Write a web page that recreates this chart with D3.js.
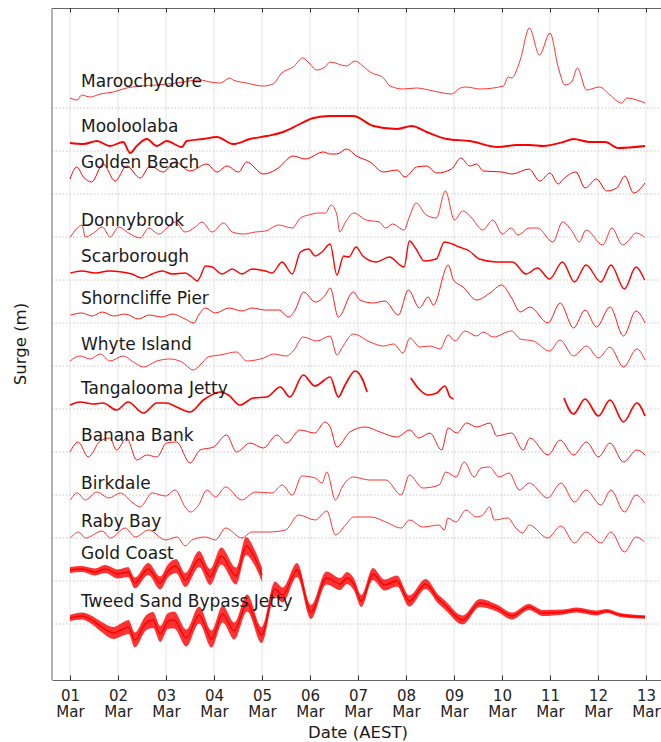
<!DOCTYPE html>
<html>
<head>
<meta charset="utf-8">
<script src="https://cdn.jsdelivr.net/npm/d3@7"></script>
<style>
  body { margin: 0; background: #fff; }
  svg { display: block; font-family: "DejaVu Sans", sans-serif; }
</style>
</head>
<body>
<svg id="chart"></svg>
<script>
// Station names, top to bottom
const stations = ["Maroochydore", "Mooloolaba", "Golden Beach", "Donnybrook", "Scarborough",
  "Shorncliffe Pier", "Whyte Island", "Tangalooma Jetty", "Banana Bank", "Birkdale",
  "Raby Bay", "Gold Coast", "Tweed Sand Bypass Jetty"];

// vertical stacking offset of each station (m)
const offsets = [5.16, 4.73, 4.30, 3.87, 3.44, 3.01, 2.58, 2.15, 1.72, 1.29, 0.86, 0.43, 0];

// x tick labels: days of March
const tickDays = [0, 1, 2, 3, 4, 5, 6, 7, 8, 9, 10, 11, 12];

// surge series: [days since 01 Mar 00:00 AEST, surge m] (null = gap)
const maroochydore = [[0,0.10],[0.15,0.08],[0.24,0.13],[0.42,0.11],[0.63,0.14],[0.9,0.16],[1.18,0.20],[1.46,0.22],[1.81,0.23],[2.22,0.25],[2.71,0.28],[2.92,0.26],[3.13,0.25],[3.33,0.30],[3.4,0.28],[3.68,0.25],[4.02,0.22],[4.23,0.24],[4.41,0.35],[4.65,0.41],[4.85,0.50],[4.96,0.46],[5.14,0.38],[5.31,0.41],[5.42,0.46],[5.76,0.42],[5.94,0.47],[6.08,0.43],[6.25,0.36],[6.53,0.30],[6.67,0.22],[6.94,0.19],[7.22,0.20],[7.57,0.17],[7.95,0.14],[8.13,0.20],[8.26,0.21],[8.54,0.19],[9.03,0.22],[9.13,0.31],[9.2,0.30],[9.38,0.48],[9.57,0.80],[9.78,0.53],[10.0,0.75],[10.17,0.41],[10.31,0.23],[10.45,0.26],[10.57,0.40],[10.76,0.18],[11.03,0.21],[11.25,0.13],[11.49,0.05],[11.6,0.10],[11.74,0.09],[11.98,0.05]];
const mooloolaba = [[0,0.08],[0.28,0.07],[0.56,0.10],[0.83,0.05],[1.11,0.09],[1.25,-0.02],[1.39,0.05],[1.6,0.12],[1.81,0.05],[2.01,0.10],[2.33,0.04],[2.43,0.10],[2.78,0.12],[3.06,0.14],[3.4,0.07],[3.75,0.12],[4.1,0.15],[4.44,0.19],[4.79,0.27],[5.07,0.33],[5.42,0.35],[5.9,0.35],[6.32,0.25],[6.81,0.22],[7.12,0.25],[7.43,0.19],[7.85,0.12],[8.33,0.10],[8.92,0.04],[9.31,0.06],[9.58,0.06],[9.86,0.05],[10.28,0.09],[10.49,0.12],[10.83,0.09],[11.15,0.09],[11.42,0.03],[11.98,0.05]];
const goldenBeach = [[0,0.15],[0.14,0.27],[0.28,0.17],[0.45,0.12],[0.69,0.30],[0.94,0.13],[1.18,0.28],[1.46,0.16],[1.67,0.28],[1.94,0.22],[2.19,0.32],[2.5,0.23],[2.85,0.30],[3.06,0.22],[3.27,0.28],[3.51,0.22],[3.68,0.32],[4.03,0.20],[4.31,0.25],[4.65,0.38],[4.9,0.35],[5.28,0.42],[5.42,0.40],[5.56,0.40],[5.76,0.45],[5.97,0.38],[6.25,0.32],[6.53,0.22],[6.81,0.24],[6.98,0.17],[7.22,0.27],[7.43,0.28],[7.64,0.21],[7.95,0.25],[8.14,0.36],[8.33,0.28],[8.47,0.30],[8.61,0.23],[9.0,0.22],[9.21,0.20],[9.56,0.25],[9.79,0.13],[10.0,0.21],[10.17,0.10],[10.28,0.15],[10.54,0.22],[10.73,0.06],[10.97,0.15],[11.18,0.03],[11.39,0.06],[11.56,0.18],[11.74,0.01],[11.98,0.11]];
const donnybrook = [[0.01,0.00],[0.15,0.09],[0.25,0.12],[0.32,0.00],[0.49,0.04],[0.67,0.10],[0.84,0.00],[1.01,0.10],[1.22,0.04],[1.46,-0.01],[1.64,0.09],[1.85,0.03],[2.02,0.09],[2.19,0.15],[2.4,0.05],[2.61,0.10],[2.75,0.15],[2.96,0.05],[3.2,0.14],[3.38,0.05],[3.62,0.03],[3.86,0.05],[4.07,0.06],[4.35,0.12],[4.63,0.09],[4.8,0.19],[4.97,0.22],[5.18,0.24],[5.32,0.24],[5.44,0.32],[5.56,0.22],[5.62,0.05],[5.74,0.15],[5.91,0.24],[6.17,0.17],[6.44,0.15],[6.58,0.09],[6.72,0.13],[6.96,0.07],[7.07,0.20],[7.21,0.34],[7.42,0.22],[7.63,0.19],[7.82,0.46],[8.01,0.17],[8.18,0.26],[8.35,0.20],[8.6,0.07],[8.81,0.17],[9.01,0.03],[9.19,0.09],[9.33,0.02],[9.57,0.09],[9.74,0.09],[10.06,-0.05],[10.26,0.15],[10.47,0.05],[10.61,-0.05],[10.75,0.07],[11.1,-0.08],[11.29,0.09],[11.51,-0.08],[11.65,-0.03],[11.79,0.04],[11.97,0.00]];
const scarborough = [[0.01,0.07],[0.25,0.09],[0.53,0.07],[0.81,0.09],[1.08,0.08],[1.29,0.06],[1.5,0.02],[1.71,0.06],[1.92,0.09],[2.13,0.06],[2.4,0.07],[2.54,0.03],[2.65,-0.01],[2.72,0.04],[2.82,0.14],[2.96,0.13],[3.17,0.06],[3.38,0.11],[3.58,0.06],[3.79,0.11],[4.07,0.09],[4.21,0.07],[4.42,0.18],[4.63,0.06],[4.8,0.28],[4.97,0.31],[5.11,0.24],[5.25,0.28],[5.42,0.36],[5.56,0.05],[5.7,0.24],[5.81,0.23],[5.96,0.33],[6.1,0.24],[6.38,0.18],[6.65,0.23],[6.96,0.13],[7.07,0.39],[7.21,0.31],[7.38,0.19],[7.63,0.21],[7.8,0.38],[7.97,0.36],[8.11,0.33],[8.32,0.29],[8.53,0.21],[8.88,0.18],[9.22,0.18],[9.5,0.06],[9.74,0.12],[9.99,0.01],[10.26,0.18],[10.51,-0.02],[10.75,0.15],[11.06,-0.02],[11.27,0.15],[11.55,-0.09],[11.79,0.13],[11.97,0.00]];
const shorncliffe = [[0.01,0.08],[0.25,0.10],[0.46,0.07],[0.67,0.11],[0.91,0.07],[1.15,0.09],[1.43,0.04],[1.64,0.08],[1.92,0.06],[2.13,0.09],[2.4,0.04],[2.58,0.00],[2.68,0.08],[2.82,0.15],[3.03,0.10],[3.31,0.15],[3.58,0.12],[3.79,0.15],[4.07,0.13],[4.35,0.13],[4.56,0.06],[4.69,0.13],[4.87,0.31],[5.11,0.21],[5.32,0.28],[5.42,0.35],[5.59,0.06],[5.9,0.31],[6.04,0.23],[6.32,0.20],[6.56,0.22],[6.84,0.08],[7.05,0.33],[7.28,0.15],[7.46,0.26],[7.57,0.18],[7.88,0.58],[7.99,0.43],[8.19,0.36],[8.47,0.23],[8.75,0.30],[8.99,0.38],[9.2,0.25],[9.38,0.11],[9.58,0.16],[9.96,0.00],[10.21,0.20],[10.49,-0.05],[10.73,0.13],[10.97,-0.04],[11.25,0.16],[11.53,-0.13],[11.79,0.12],[11.98,0.00]];
const whyteIsland = [[0,0.05],[0.21,0.10],[0.42,0.07],[0.63,0.12],[0.83,0.05],[1.11,0.10],[1.32,0.04],[1.53,-0.01],[1.81,0.05],[2.08,0.07],[2.33,0.04],[2.57,-0.04],[2.71,0.01],[2.88,0.09],[3.13,0.11],[3.47,0.14],[3.68,0.05],[4.03,0.08],[4.24,0.12],[4.51,0.10],[4.65,0.15],[4.86,0.29],[5.14,0.25],[5.42,0.30],[5.56,0.11],[5.69,0.20],[5.9,0.32],[6.25,0.24],[6.53,0.20],[6.74,0.22],[6.94,0.13],[7.08,0.28],[7.29,0.19],[7.5,0.20],[7.71,0.17],[7.88,0.31],[8.02,0.25],[8.23,0.35],[8.47,0.30],[8.61,0.34],[8.82,0.29],[9.2,0.35],[9.38,0.27],[9.65,0.25],[9.99,0.15],[10.21,0.26],[10.49,0.10],[10.76,0.20],[11.01,0.08],[11.25,0.19],[11.53,-0.01],[11.81,0.17],[11.98,0.06]];
const tangalooma = [[0,0.04],[0.21,0.07],[0.49,0.05],[0.69,0.06],[0.97,-0.01],[1.21,0.07],[1.53,-0.04],[1.81,0.06],[2.01,0.06],[2.22,0.02],[2.5,-0.03],[2.78,0.09],[3.13,0.17],[3.3,0.14],[3.54,0.04],[3.82,0.11],[4.1,0.12],[4.38,0.22],[4.58,0.12],[4.86,0.34],[5.1,0.23],[5.42,0.32],[5.59,0.12],[5.73,0.24],[5.94,0.38],[6.08,0.31],[6.19,0.17],[6.6,null],[7.1,0.31],[7.29,0.19],[7.46,0.14],[7.64,0.16],[7.81,0.23],[7.92,0.12],[7.99,0.10],[9.0,null],[10.29,0.11],[10.49,-0.05],[10.73,0.10],[11.01,-0.07],[11.25,0.09],[11.53,-0.13],[11.81,0.06],[11.98,-0.07]];
const bananaBank = [[0,0.00],[0.17,0.10],[0.38,-0.05],[0.63,0.11],[0.83,0.14],[0.97,0.02],[1.18,0.14],[1.39,-0.08],[1.6,-0.03],[1.81,-0.05],[2.01,0.09],[2.22,0.10],[2.5,-0.11],[2.71,0.02],[2.99,0.05],[3.26,0.17],[3.47,0.00],[3.75,0.09],[4.03,0.04],[4.31,0.17],[4.51,0.09],[4.79,0.22],[5.1,0.19],[5.31,0.30],[5.42,0.25],[5.56,0.05],[5.83,0.20],[6.15,0.25],[6.46,0.20],[6.81,0.15],[7.08,0.22],[7.26,0.14],[7.5,0.19],[7.74,0.02],[7.88,0.24],[8.06,0.19],[8.26,0.29],[8.47,0.25],[8.75,0.29],[8.89,0.16],[9.2,0.19],[9.44,0.02],[9.58,0.14],[9.96,-0.03],[10.21,0.12],[10.49,-0.03],[10.76,0.10],[11.01,-0.05],[11.25,0.09],[11.53,-0.10],[11.81,0.02],[11.98,-0.03]];
const birkdale = [[0.01,-0.05],[0.15,0.02],[0.32,-0.05],[0.56,0.03],[0.81,-0.03],[1.05,0.02],[1.29,-0.07],[1.46,-0.12],[1.71,0.02],[1.99,-0.01],[2.19,0.05],[2.4,-0.12],[2.51,-0.17],[2.68,-0.10],[2.85,0.05],[3.03,-0.02],[3.24,0.08],[3.58,-0.05],[3.86,0.03],[4.21,0.02],[4.42,0.10],[4.63,0.00],[4.83,0.19],[5.11,0.17],[5.25,0.12],[5.35,0.23],[5.53,-0.05],[5.67,0.08],[5.9,0.18],[6.24,0.15],[6.58,0.15],[6.9,0.00],[7.07,0.20],[7.35,0.07],[7.69,0.10],[7.83,0.23],[8.04,0.18],[8.21,0.33],[8.42,0.18],[8.56,0.27],[8.74,0.28],[8.94,0.18],[9.15,0.22],[9.36,0.05],[9.57,0.12],[9.95,-0.03],[10.23,0.12],[10.51,-0.07],[10.75,0.05],[11.06,-0.10],[11.27,0.05],[11.55,-0.17],[11.79,0.00],[11.97,-0.08]];
const rabyBay = [[0.01,0.00],[0.18,0.06],[0.32,0.00],[0.67,0.07],[0.84,0.00],[1.15,0.10],[1.36,0.01],[1.64,0.08],[1.99,-0.02],[2.23,0.01],[2.4,-0.08],[2.54,-0.02],[2.82,0.01],[3.03,-0.02],[3.24,0.10],[3.58,0.00],[3.79,0.06],[4.14,0.06],[4.49,0.08],[4.76,0.23],[5.11,0.18],[5.35,0.27],[5.53,0.03],[5.74,0.13],[5.91,0.21],[6.27,0.21],[6.58,0.16],[6.9,0.10],[7.07,0.18],[7.35,0.11],[7.69,0.13],[7.8,0.08],[7.87,0.20],[8.04,0.16],[8.25,0.28],[8.46,0.21],[8.6,0.23],[8.74,0.31],[8.84,0.18],[9.12,0.20],[9.29,0.10],[9.43,0.05],[9.57,0.13],[9.95,0.00],[10.23,0.12],[10.51,-0.05],[10.75,0.06],[11.06,-0.05],[11.27,0.06],[11.55,-0.14],[11.79,0.01],[11.97,-0.04]];
// the two noisy open-coast gauges also carry the half-width of their noise band
const goldCoast = [[0,0.11,0.03],[0.25,0.12,0.03],[0.52,0.09,0.035],[0.73,0.12,0.04],[1.0,0.07,0.045],[1.21,0.09,0.05],[1.35,-0.02,0.055],[1.63,0.12,0.06],[1.88,-0.02,0.065],[2.04,0.10,0.065],[2.21,0.15,0.07],[2.4,0.01,0.07],[2.69,0.22,0.08],[2.92,0.04,0.08],[3.15,0.25,0.085],[3.46,0.05,0.085],[3.67,0.35,0.09],[3.83,0.25,0.08],[4.0,0.06,0.07]];
const tweed = [[0,0.06,0.03],[0.25,0.08,0.035],[0.42,0.05,0.04],[0.63,-0.02,0.05],[0.91,-0.09,0.06],[1.06,-0.06,0.065],[1.22,-0.03,0.07],[1.35,-0.16,0.075],[1.58,0.01,0.075],[1.73,0.04,0.08],[1.88,-0.10,0.08],[2.04,0.03,0.08],[2.17,0.04,0.085],[2.42,-0.14,0.085],[2.69,0.09,0.085],[2.95,-0.15,0.085],[3.18,0.10,0.085],[3.42,-0.07,0.085],[3.69,0.21,0.085],[3.99,-0.11,0.08],[4.27,0.35,0.075],[4.43,0.29,0.075],[4.73,0.54,0.07],[5.02,0.12,0.07],[5.34,0.46,0.065],[5.63,0.40,0.06],[5.77,0.46,0.06],[5.91,0.40,0.06],[6.07,0.23,0.06],[6.31,0.50,0.06],[6.55,0.39,0.055],[6.81,0.43,0.055],[7.07,0.23,0.055],[7.41,0.40,0.05],[7.67,0.25,0.045],[7.81,0.19,0.045],[8.18,0.04,0.045],[8.54,0.21,0.04],[8.89,0.16,0.035],[9.21,0.08,0.035],[9.56,0.17,0.03],[9.85,0.11,0.03],[10.28,0.12,0.025],[10.55,0.14,0.025],[10.97,0.11,0.025],[11.18,0.13,0.02],[11.46,0.09,0.02],[11.98,0.07,0.018]];

const series = [maroochydore, mooloolaba, goldenBeach, donnybrook, scarborough, shorncliffe,
  whyteIsland, tangalooma, bananaBank, birkdale, rabyBay, goldCoast, tweed];

// line widths (visual style only)
const strokeW = [0.8, 1.9, 1.0, 0.8, 1.4, 0.9, 0.8, 1.7, 0.9, 0.8, 0.8, 1.4, 1.4];

const width = 661, height = 742;
const svg = d3.select("#chart").attr("width", width).attr("height", height);

const t0 = Date.UTC(2025, 2, 1);
const day = d => new Date(t0 + d * 864e5);

const x = d3.scaleUtc().domain([day(-0.375), day(12.375)]).range([52, 664]);
const y = d3.scaleLinear().domain([-0.56, 6.16]).range([680, 8]);

const ticks = tickDays.map(day);

// vertical grid
svg.append("g")
  .selectAll("line")
  .data(ticks)
  .join("line")
  .attr("x1", d => x(d)).attr("x2", d => x(d))
  .attr("y1", 8).attr("y2", 680)
  .attr("stroke", "#e4e4e4")
  .attr("stroke-width", 1);

// dotted baselines
svg.append("g")
  .selectAll("line")
  .data(offsets)
  .join("line")
  .attr("x1", 52).attr("x2", width)
  .attr("y1", d => y(d)).attr("y2", d => y(d))
  .attr("stroke", "#c8c8c8")
  .attr("stroke-width", 1)
  .attr("stroke-dasharray", "1.5,2");

// series
const lineGen = d3.line()
  .defined(d => d[1] != null)
  .x(d => x(day(d[0])))
  .y(d => y(d[1]))
  .curve(d3.curveMonotoneX);

const bandGen = d3.area()
  .x(d => x(day(d[0])))
  .y0(d => y(d[1] - d[2]))
  .y1(d => y(d[1] + d[2]))
  .curve(d3.curveMonotoneX);

const lines = svg.append("g");
series.forEach((s, i) => {
  const pts = s.map(p => p[1] == null ? [p[0], null] : [p[0], p[1] + offsets[i], p[2]]);
  if (s[0].length > 2) {
    lines.append("path")
      .attr("d", bandGen(pts))
      .attr("fill", "#ff0000")
      .attr("fill-opacity", 0.8);
  }
  lines.append("path")
    .attr("d", lineGen(pts))
    .attr("fill", "none")
    .attr("stroke", "#ff0000")
    .attr("stroke-width", strokeW[i])
    .attr("stroke-linejoin", "round");
});

// axes
const fmtDay = d3.utcFormat("%d");
const fmtMon = d3.utcFormat("%b");

const xAxis = svg.append("g")
  .attr("transform", "translate(0,680)")
  .call(d3.axisBottom(x).tickValues(ticks).tickSize(-4.5).tickSizeOuter(0).tickPadding(10).tickFormat(fmtDay));
xAxis.select(".domain").attr("stroke", "#666");
xAxis.selectAll(".tick line").attr("stroke", "#333");
xAxis.selectAll(".tick text")
  .attr("fill", "#222")
  .attr("font-size", 15)
  .attr("font-family", "DejaVu Sans, sans-serif")
  .each(function(d) {
    const t = d3.select(this);
    t.text(null);
    t.append("tspan").attr("x", 0).text(fmtDay(d));
    t.append("tspan").attr("x", 0).attr("dy", "1.1em").text(fmtMon(d));
  });

const topAxis = svg.append("g")
  .attr("transform", "translate(0,8)")
  .call(d3.axisTop(x).tickValues(ticks).tickSize(-4.5).tickSizeOuter(0).tickFormat(""));
topAxis.select(".domain").attr("stroke", "#666");
topAxis.selectAll(".tick line").attr("stroke", "#333");

svg.append("line")
  .attr("x1", 52).attr("x2", 52)
  .attr("y1", 8).attr("y2", 680)
  .attr("stroke", "#666");

// station labels, just above the start of each trace
svg.append("g")
  .selectAll("text")
  .data(stations)
  .join("text")
  .attr("x", 81)
  .attr("y", (d, i) => y(offsets[i] + series[i][0][1]) - 11)
  .attr("font-size", 17)
  .attr("fill", "#1a1a1a")
  .text(d => d);

// axis titles
svg.append("text")
  .attr("x", 358).attr("y", 738)
  .attr("text-anchor", "middle")
  .attr("font-size", 16.5)
  .attr("fill", "#1a1a1a")
  .text("Date (AEST)");

svg.append("text")
  .attr("transform", "translate(26,344) rotate(-90)")
  .attr("text-anchor", "middle")
  .attr("font-size", 16.5)
  .attr("fill", "#1a1a1a")
  .text("Surge (m)");
</script>
</body>
</html>
